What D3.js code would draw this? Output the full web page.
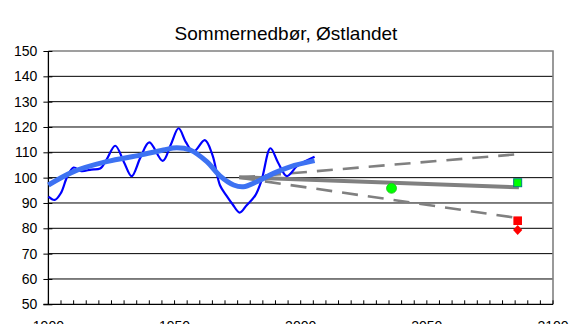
<!DOCTYPE html>
<html>
<head>
<meta charset="utf-8">
<script src="https://cdn.jsdelivr.net/npm/d3@7"></script>
<style>
  html, body { margin: 0; padding: 0; background: #fff; }
  svg { display: block; font-family: Arial, "Liberation Sans", sans-serif; }
</style>
</head>
<body>
<svg id="chart" width="577" height="324"></svg>
<script>
// Filtered summer precipitation, observed (percent of normal)
const obsYears  = [1900, 1902.5, 1905, 1907.5, 1910, 1913, 1917, 1920.5, 1923, 1926.5, 1930, 1933, 1936.5, 1940, 1945.3, 1948.5, 1951.6, 1954.5, 1957.5, 1962, 1965, 1968, 1970.5, 1973, 1975.8, 1978.5, 1982, 1984.5, 1988, 1991, 1994.5, 1998.5, 2002, 2005.5];
const obsValues = [92.5, 91.2, 94, 100.5, 104, 102.6, 103.2, 103.6, 107, 112.6, 106, 100.6, 108, 113.9, 106.6, 113, 119.5, 114, 110.2, 114.8, 109, 97, 93, 89.5, 86.2, 89, 93, 99, 111.6, 106, 100.6, 104.5, 106.6, 108.3];

// Long-term smoothed trend
const trendYears  = [1900, 1910, 1923, 1936.4, 1945.6, 1950.9, 1956.2, 1962.8, 1968, 1973.4, 1977.3, 1982.6, 1989.2, 1995.8, 2005.5];
const trendValues = [97.1, 102.4, 106.3, 108.9, 110.9, 111.8, 110.9, 106.3, 100.7, 97.1, 96.4, 98.4, 101.7, 104.3, 106.7];

// Scenario projections (start, end)
const projYears = [1975.6, 2086.5];
const projMid   = [100.2, 96.2];
const projHigh  = [100, 109.3];
const projLow   = [100, 84];

// Individual model results
const circleYear = 2036, circleValue = 95.8;
const markerYear = 2086;
const greenSquareValue = 98;
const redSquareValue = 83;
const redDiamondValue = 79.3;

// Axis ticks
const yTicks = [50, 60, 70, 80, 90, 100, 110, 120, 130, 140, 150];
const xLabelYears = [1900, 1950, 2000, 2050, 2100];
const xTickYears = d3.range(1900, 2101, 5);

const svg = d3.select("#chart");
const plotLeft = 48.4, plotRight = 553, plotTop = 51, plotBottom = 304.3;
const x = d3.scaleLinear().domain([1900, 2100]).range([plotLeft, plotRight]);
const y = d3.scaleLinear().domain([50, 150]).range([plotBottom, plotTop]);

// Title
svg.append("text")
  .attr("x", 286).attr("y", 39.5)
  .attr("text-anchor", "middle")
  .attr("font-size", "19px")
  .attr("fill", "#000")
  .text("Sommernedbør, Østlandet");

// Gridlines
svg.append("g").selectAll("line")
  .data(yTicks.filter(v => v > 50 && v < 150))
  .join("line")
  .attr("x1", plotLeft).attr("x2", plotRight)
  .attr("y1", d => y(d)).attr("y2", d => y(d))
  .attr("stroke", "#000").attr("stroke-width", 1);

// Plot area border (top and right)
svg.append("path")
  .attr("d", `M${plotLeft},${plotTop}H${plotRight}V${plotBottom}`)
  .attr("fill", "none").attr("stroke", "#808080").attr("stroke-width", 1.6);

// Y axis
const yAxis = d3.axisLeft(y).tickValues(yTicks).tickSize(0).tickPadding(11);
const gy = svg.append("g").attr("transform", `translate(${plotLeft},0)`).call(yAxis);
gy.select(".domain").remove();
gy.selectAll("text").attr("font-size", "14px").attr("fill", "#000")
  .attr("font-family", "Arial, 'Liberation Sans', sans-serif");
gy.selectAll(".tick").append("line")
  .attr("x1", -5).attr("x2", 4).attr("stroke", "#000");
svg.append("line")
  .attr("x1", plotLeft).attr("x2", plotLeft).attr("y1", plotTop).attr("y2", plotBottom)
  .attr("stroke", "#000").attr("stroke-width", 1.3);

// X axis
svg.append("line")
  .attr("x1", plotLeft - 5).attr("x2", plotRight).attr("y1", plotBottom).attr("y2", plotBottom)
  .attr("stroke", "#000").attr("stroke-width", 1.2);
svg.append("g").selectAll("line")
  .data(xTickYears)
  .join("line")
  .attr("x1", d => x(d)).attr("x2", d => x(d))
  .attr("y1", plotBottom - 4).attr("y2", plotBottom)
  .attr("stroke", "#000");
svg.append("g").selectAll("text")
  .data(xLabelYears)
  .join("text")
  .attr("x", d => x(d)).attr("y", plotBottom + 26.5)
  .attr("text-anchor", "middle")
  .attr("font-size", "14px")
  .text(d => d);

const line = d3.line().x(d => x(d[0])).y(d => y(d[1]));
const smooth = d3.line().x(d => x(d[0])).y(d => y(d[1])).curve(d3.curveCatmullRom.alpha(0.5));

// Projection band edges (dashed) and central projection
[projHigh, projLow].forEach(vals => {
  svg.append("path")
    .datum(projYears.map((yr, i) => [yr, vals[i]]))
    .attr("d", line)
    .attr("fill", "none").attr("stroke", "#808080")
    .attr("stroke-width", 2.6).attr("stroke-dasharray", "16,10");
});
svg.append("path")
  .datum(projYears.map((yr, i) => [yr, projMid[i]]))
  .attr("d", line)
  .attr("fill", "none").attr("stroke", "#808080").attr("stroke-width", 4);

// Observed, filtered series
svg.append("path")
  .datum(obsYears.map((yr, i) => [yr, obsValues[i]]))
  .attr("d", smooth)
  .attr("fill", "none").attr("stroke", "#0000ff").attr("stroke-width", 2.2)
  .attr("stroke-linejoin", "round");

// Smoothed trend
svg.append("path")
  .datum(trendYears.map((yr, i) => [yr, trendValues[i]]))
  .attr("d", smooth)
  .attr("fill", "none").attr("stroke", "#3d72f2").attr("stroke-width", 5)
  .attr("stroke-linecap", "butt");

// Model markers
svg.append("circle")
  .attr("cx", x(circleYear)).attr("cy", y(circleValue)).attr("r", 5)
  .attr("fill", "#00ff00").attr("stroke", "#22bb22").attr("stroke-width", 0.8);

const sq = 8;
svg.append("rect")
  .attr("x", x(markerYear) - sq / 2).attr("y", y(greenSquareValue) - sq / 2)
  .attr("width", sq).attr("height", sq)
  .attr("fill", "#00ff00").attr("stroke", "#008080").attr("stroke-width", 1);
svg.append("rect")
  .attr("x", x(markerYear) - 4.3).attr("y", y(redSquareValue) - 4.3)
  .attr("width", 8.6).attr("height", 8.6)
  .attr("fill", "#ff0000");
svg.append("path")
  .attr("transform", `translate(${x(markerYear)},${y(redDiamondValue)})`)
  .attr("d", "M0,-5L4.6,0L0,5L-4.6,0Z")
  .attr("fill", "#ff0000");
</script>
</body>
</html>
